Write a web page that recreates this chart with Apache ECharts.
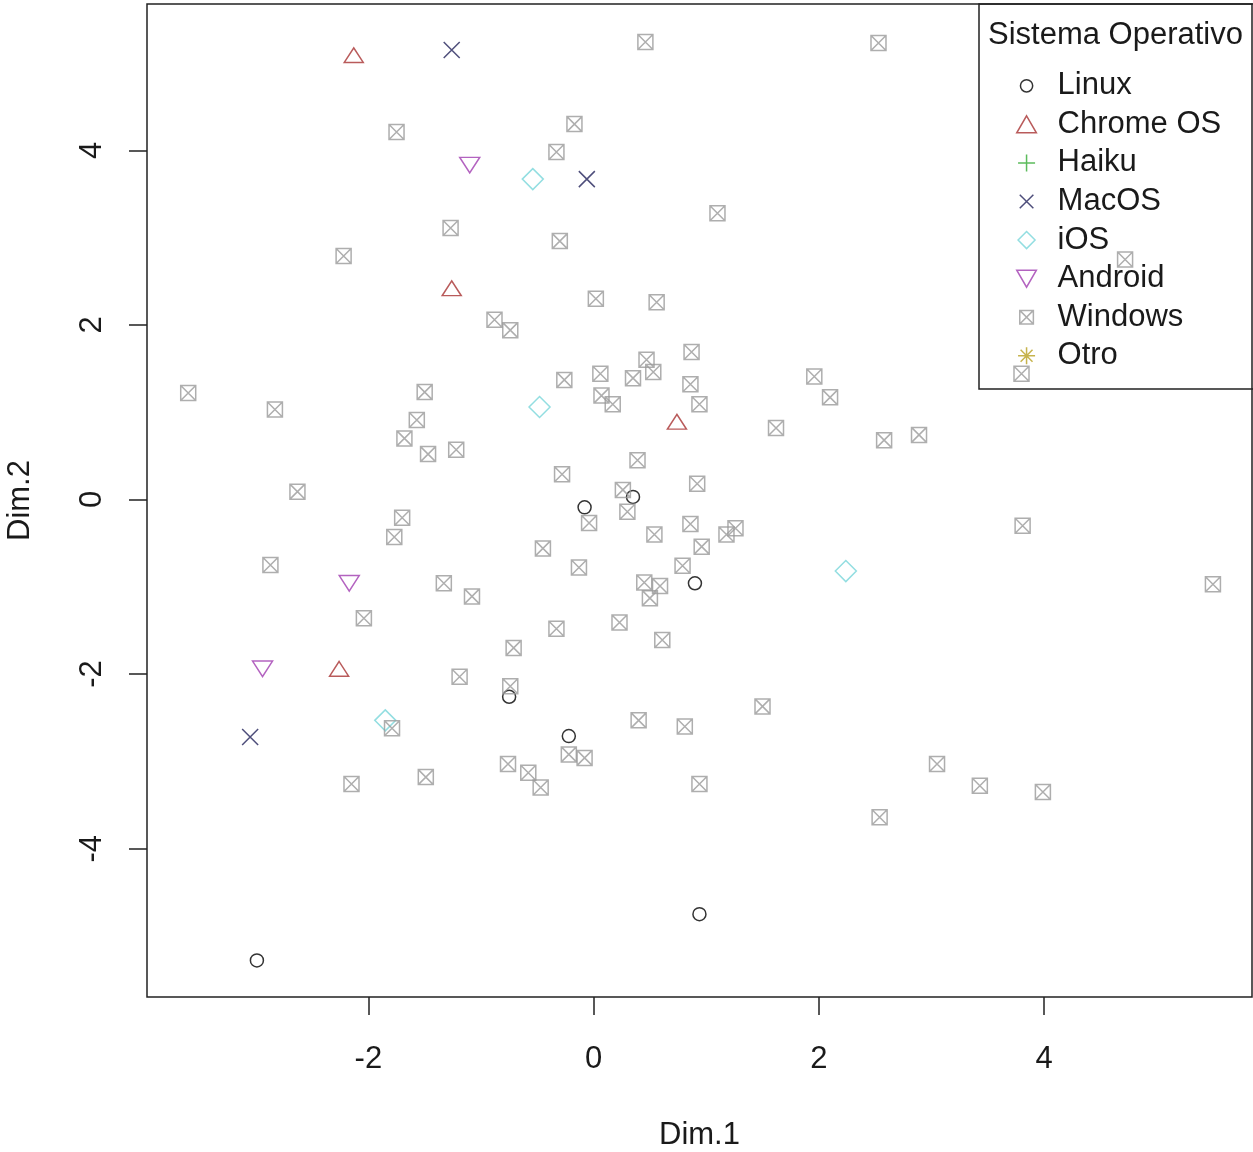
<!DOCTYPE html>
<html><head><meta charset="utf-8">
<script src="https://cdn.jsdelivr.net/npm/echarts@6/dist/echarts.min.js"></script>
<style>html,body{margin:0;padding:0;background:#fff}#c{width:1253px;height:1152px}</style>
</head><body><div id="c"></div>
<script>
// ---------- data ----------
const seriesNames = ['Linux', 'Chrome OS', 'Haiku', 'MacOS', 'iOS', 'Android', 'Windows', 'Otro'];
const xTicks = [-2, 0, 2, 4];
const yTicks = [-4, -2, 0, 2, 4];
const xTitle = 'Dim.1';
const yTitle = 'Dim.2';
const legendTitle = 'Sistema Operativo';

const linuxPts = [[-0.08,-0.09],[0.35,0.03],[0.90,-0.96],[-0.75,-2.26],[-0.22,-2.71],[0.94,-4.75],[-2.99,-5.28]];
const chromePts = [[-2.13,5.09],[-1.26,2.42],[0.74,0.89],[-2.26,-1.94]];
const haikuPts = [];
const macPts = [[-1.26,5.15],[-0.06,3.67],[-3.05,-2.72]];
const iosPts = [[-0.54,3.67],[-0.48,1.06],[2.24,-0.82],[-1.85,-2.53]];
const androidPts = [[-1.10,3.83],[-2.17,-0.96],[-2.94,-1.94]];
const windowsPts = [[0.46,5.24],[2.53,5.23],[-1.75,4.21],[-0.17,4.30],[-0.33,3.98],[-1.27,3.11],[-0.30,2.96],[1.10,3.28],
  [-2.22,2.79],[0.02,2.30],[0.56,2.26],[-0.88,2.06],[-0.74,1.94],[4.72,2.75],[0.87,1.69],[-3.60,1.22],[-2.83,1.03],
  [-1.50,1.23],[-0.26,1.37],[0.06,1.44],[0.47,1.60],[0.53,1.46],[0.35,1.39],[0.86,1.32],[0.07,1.19],[0.17,1.09],
  [0.94,1.09],[-1.57,0.91],[-1.68,0.70],[-1.47,0.52],[-1.22,0.57],[1.62,0.82],[1.96,1.41],[2.10,1.17],[2.58,0.68],
  [2.89,0.74],[3.80,1.44],[0.39,0.45],[-0.28,0.29],[0.92,0.18],[0.26,0.11],[0.30,-0.14],[-0.04,-0.27],[0.54,-0.40],
  [0.86,-0.28],[1.18,-0.40],[1.26,-0.33],[-0.45,-0.56],[0.96,-0.54],[-0.13,-0.78],[0.79,-0.76],[0.45,-0.95],
  [0.59,-0.99],[0.50,-1.13],[0.23,-1.41],[-0.33,-1.48],[0.61,-1.61],[-0.71,-1.70],[-2.63,0.09],[-1.70,-0.21],
  [-1.77,-0.43],[-2.87,-0.75],[-1.33,-0.96],[-1.08,-1.11],[-2.04,-1.36],[-1.19,-2.03],[-0.74,-2.14],[-1.79,-2.62],
  [-0.22,-2.92],[-0.08,-2.96],[-2.15,-3.26],[-1.49,-3.18],[-0.76,-3.03],[-0.58,-3.13],[-0.47,-3.30],[1.50,-2.37],
  [0.40,-2.53],[0.81,-2.60],[0.94,-3.26],[3.05,-3.03],[3.43,-3.28],[2.54,-3.64],[3.99,-3.35],[3.81,-0.30],[5.50,-0.97]];
const otroPts = [];
const seriesData = [linuxPts, chromePts, haikuPts, macPts, iosPts, androidPts, windowsPts, otroPts];

// ---------- styling ----------
const FONT = "'Liberation Sans', Arial, sans-serif";
const TXT = '#1a1a1a';
const AX = '#222';
const sym = {
  circle: 'circle',
  circleLegend: 'path://M0,0 L0,0 M10,10 L10,10 M8.6,5 A3.6,3.6 0 1,1 1.4,5 A3.6,3.6 0 1,1 8.6,5 Z',
  triUp: 'path://M5,0 L10,8.66 L0,8.66 Z',
  plus: 'path://M5,0 L5,10 M0,5 L10,5',
  cross: 'path://M0,0 L10,10 M10,0 L0,10',
  crossLegend: 'path://M0,0 L0,0 M10,10 L10,10 M1,1 L9,9 M9,1 L1,9',
  diamond: 'path://M5,0 L10,5 L5,10 L0,5 Z',
  triDown: 'path://M0,0 L10,0 L5,8.66 Z',
  boxX: 'path://M0,0 L10,0 L10,10 L0,10 Z M0,0 L10,10 M10,0 L0,10',
  boxXLegend: 'path://M0,0 L0,0 M10,10 L10,10 M1,1 L9,1 L9,9 L1,9 Z M1,1 L9,9 M9,1 L1,9',
  star: 'path://M5,0 L5,10 M0,5 L10,5 M1.5,1.5 L8.5,8.5 M8.5,1.5 L1.5,8.5'
};
const look = [
  {symbol: sym.circle, legend: sym.circleLegend, size: 13, color: '#000000'},
  {symbol: sym.triUp, legend: sym.triUp, size: [19, 17], color: '#a83232'},
  {symbol: sym.plus, legend: sym.plus, size: 17, color: '#33aa33'},
  {symbol: sym.cross, legend: sym.crossLegend, size: 16, color: '#22225a'},
  {symbol: sym.diamond, legend: sym.diamond, size: 21, color: '#78d6da'},
  {symbol: sym.triDown, legend: sym.triDown, size: [20, 18], color: '#a03cb0'},
  {symbol: sym.boxX, legend: sym.boxXLegend, size: 15, color: '#9a9a9a'},
  {symbol: sym.star, legend: sym.star, size: 17, color: '#b8a020'}
];

const series = seriesNames.map((name, i) => ({
  type: 'scatter',
  name: name,
  data: seriesData[i],
  symbol: look[i].symbol,
  symbolSize: look[i].size,
  symbolKeepAspect: true,
  itemStyle: {color: 'rgba(0,0,0,0)', borderColor: look[i].color, borderWidth: 1.5},
  emphasis: {disabled: true},
  animation: false
}));

const chart = echarts.init(document.getElementById('c'), null, {renderer: 'canvas'});
chart.setOption({
  animation: false,
  backgroundColor: '#ffffff',
  textStyle: {fontFamily: FONT},
  title: {
    text: legendTitle, left: 988, top: 17, padding: 0,
    textStyle: {fontSize: 31, fontWeight: 'normal', color: TXT, fontFamily: FONT, lineHeight: 36}
  },
  legend: {
    orient: 'vertical', left: 1016, top: 66.5, padding: 0, itemGap: 0,
    itemWidth: 52, itemHeight: 17, selectedMode: false,
    textStyle: {fontSize: 31, color: TXT, fontFamily: FONT, lineHeight: 38.57},
    data: seriesNames.map((n, i) => ({
      name: n, icon: look[i].legend,
      itemStyle: {color: 'rgba(0,0,0,0)', borderColor: look[i].color, borderWidth: 1.5}
    }))
  },
  grid: {
    left: 147, right: 1, top: 4, bottom: 155, show: true,
    borderColor: AX, borderWidth: 1.5, containLabel: false, outerBoundsMode: 'none'
  },
  xAxis: {
    type: 'value', min: -3.966, max: 5.847,
    splitLine: {show: false},
    axisLine: {show: false, onZero: false},
    axisTick: {show: true, length: 18, lineStyle: {color: AX, width: 1.5}, customValues: xTicks},
    axisLabel: {customValues: xTicks, fontSize: 31, color: TXT, fontFamily: FONT, margin: 47, lineHeight: 31},
    name: xTitle, nameLocation: 'middle', nameGap: 123,
    nameTextStyle: {fontSize: 31, color: TXT, fontFamily: FONT, lineHeight: 31}
  },
  yAxis: {
    type: 'value', min: -5.699, max: 5.676,
    splitLine: {show: false},
    axisLine: {show: false, onZero: false},
    axisTick: {show: true, length: 18, lineStyle: {color: AX, width: 1.5}, customValues: yTicks},
    axisLabel: {customValues: yTicks, rotate: 90, fontSize: 31, color: TXT, fontFamily: FONT, margin: 39, lineHeight: 31},
    name: yTitle, nameLocation: 'middle', nameGap: 111,
    nameTextStyle: {fontSize: 31, color: TXT, fontFamily: FONT, lineHeight: 31}
  },
  graphic: [{
    type: 'rect', silent: true, z: 50,
    shape: {x: 979, y: 4, width: 300, height: 385},
    style: {fill: 'none', stroke: AX, lineWidth: 1.5}
  }],
  series: series
});
</script></body></html>
